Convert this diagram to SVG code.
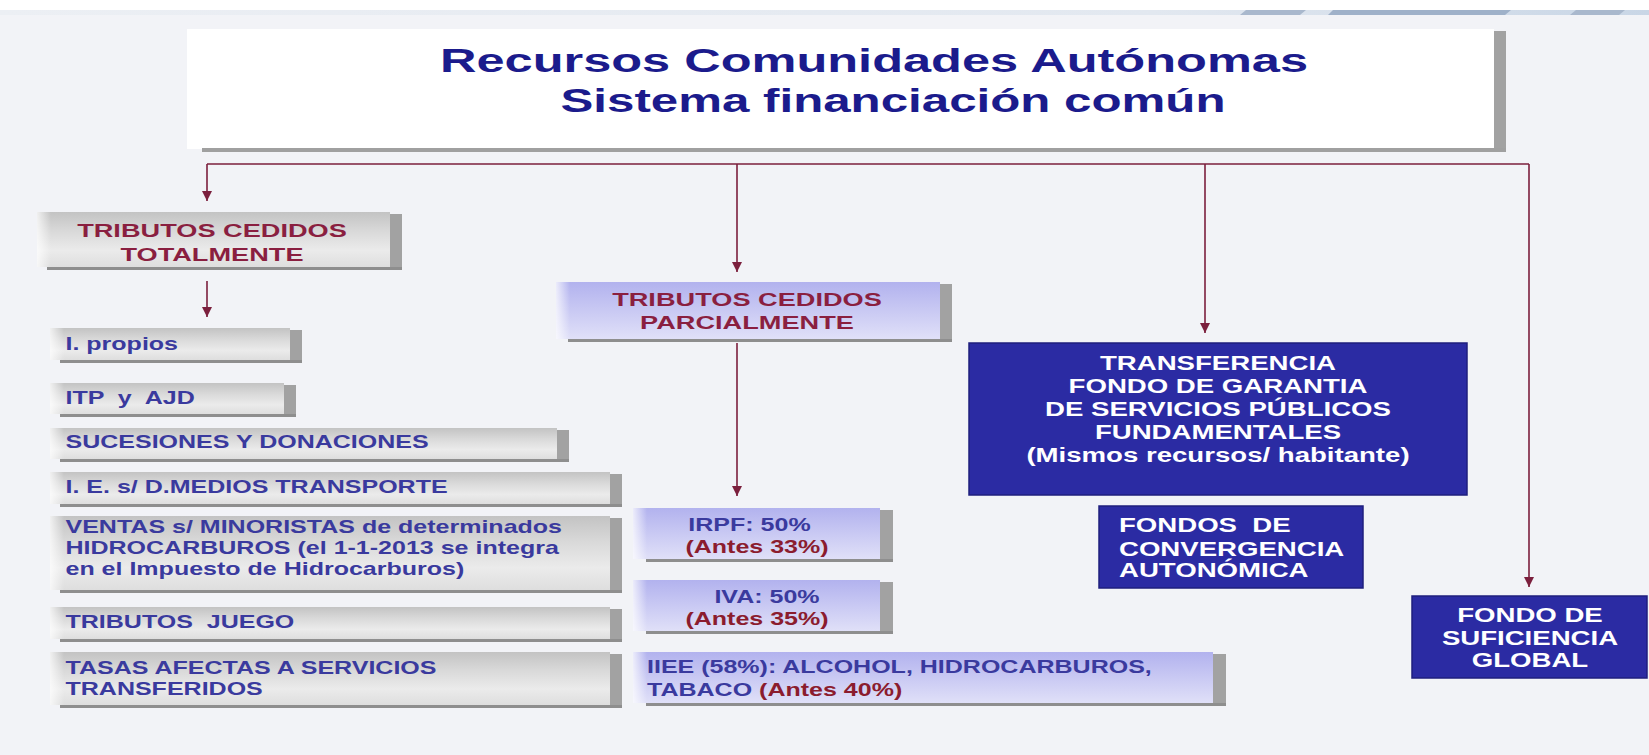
<svg xmlns="http://www.w3.org/2000/svg" width="1649" height="755" viewBox="0 0 1649 755">
<defs>
<style>
.t{font-family:"Liberation Sans",Arial,sans-serif;font-weight:bold}
.title{fill:#1b1b8c;font-size:33px}
.mar{fill:#8a1f40;font-size:19px}
.blu{fill:#3a3a9e;font-size:17.5px}
.red{fill:#8b1c2e}
.wht{fill:#ffffff;font-size:19.3px}
.conn{stroke:#7b1f3d;stroke-width:1.6;fill:none}
.bar{fill:#a2a2a2}
.bot{fill:#8e8e8e}
.gray{fill:url(#gGray)}
.purp{fill:url(#gPurple)}
.fade{fill:url(#gLeft)}
.bluebox{fill:#2b2ba3;stroke:#1f1f7e;stroke-width:1.5}
</style>
<linearGradient id="gGray" x1="0" y1="0" x2="0" y2="1">
<stop offset="0" stop-color="#c3c3c3"/>
<stop offset="0.35" stop-color="#d9d9d9"/>
<stop offset="0.7" stop-color="#ebebeb"/>
<stop offset="1" stop-color="#dedede"/>
</linearGradient>
<linearGradient id="gPurple" x1="0" y1="0" x2="0" y2="1">
<stop offset="0" stop-color="#b2b2ee"/>
<stop offset="0.5" stop-color="#c9c9f3"/>
<stop offset="1" stop-color="#e0e0f8"/>
</linearGradient>
<linearGradient id="gLeft" x1="0" y1="0" x2="1" y2="0">
<stop offset="0" stop-color="#ffffff" stop-opacity="0.75"/>
<stop offset="1" stop-color="#ffffff" stop-opacity="0"/>
</linearGradient>
<linearGradient id="gBand" x1="0" y1="0" x2="1" y2="0">
<stop offset="0" stop-color="#eceff4"/>
<stop offset="0.7" stop-color="#e2e8f0"/>
<stop offset="1" stop-color="#c9d6e6"/>
</linearGradient>
<marker id="arr" markerWidth="11" markerHeight="10" refX="10" refY="5" orient="auto" markerUnits="userSpaceOnUse">
<path d="M0,0 L10,5 L0,10 z" fill="#7b1f3d"/>
</marker>
</defs>

<rect x="0" y="0" width="1649" height="755" fill="#f2f3f7"/>
<rect x="0" y="0" width="1649" height="10" fill="#ffffff"/>
<rect x="0" y="10" width="1649" height="5" fill="url(#gBand)"/>
<polygon points="1240,15 1246,10 1306,10 1300,15" fill="#a9b8cd"/>
<polygon points="1328,15 1333,10 1511,10 1505,15" fill="#9fb1c9"/>
<polygon points="1570,15 1576,10 1625,10 1619,15" fill="#a9b8cd"/>

<g id="title">
<rect x="187" y="29" width="1307" height="120" fill="#ffffff"/>
<rect class="bar" x="1494" y="31" width="12" height="121"/>
<rect fill="#a0a0a0" x="202" y="148" width="1304" height="4"/>
<text class="t title" x="874" y="72" text-anchor="middle" textLength="868" lengthAdjust="spacingAndGlyphs">Recursos Comunidades Autónomas</text>
<text class="t title" x="893" y="112" text-anchor="middle" textLength="665" lengthAdjust="spacingAndGlyphs">Sistema financiación común</text>
</g>

<g id="connectors">
<path class="conn" d="M207,164 H1529"/>
<path class="conn" d="M207,164 V201" marker-end="url(#arr)"/>
<path class="conn" d="M737,164 V272" marker-end="url(#arr)"/>
<path class="conn" d="M1205,164 V333" marker-end="url(#arr)"/>
<path class="conn" d="M1529,164 V587" marker-end="url(#arr)"/>
<path class="conn" d="M207,281 V317" marker-end="url(#arr)"/>
<path class="conn" d="M737,343 V496" marker-end="url(#arr)"/>
</g>

<g id="cedidos-totalmente">
<rect class="gray" x="37" y="212" width="353" height="55"/>
<rect class="fade" x="37" y="212" width="14" height="55"/>
<rect class="bar" x="390" y="214" width="12" height="56"/>
<rect class="bot" x="47" y="267" width="355" height="3"/>
<text class="t mar" transform="scale(1.43,1)" x="148.25" y="237" text-anchor="middle">TRIBUTOS CEDIDOS</text>
<text class="t mar" transform="scale(1.43,1)" x="148.25" y="261" text-anchor="middle">TOTALMENTE</text>
</g>

<g id="i-propios">
<rect class="gray" x="50" y="328" width="240" height="32"/>
<rect class="fade" x="50" y="328" width="14" height="32"/>
<rect class="bar" x="290" y="330" width="12" height="33"/>
<rect class="bot" x="60" y="360" width="242" height="3"/>
<text class="t blu" transform="scale(1.43,1)" x="45.8" y="350">I. propios</text>
</g>

<g id="itp-ajd">
<rect class="gray" x="50" y="383" width="234" height="31"/>
<rect class="fade" x="50" y="383" width="14" height="31"/>
<rect class="bar" x="284" y="385" width="12" height="32"/>
<rect class="bot" x="60" y="414" width="236" height="3"/>
<text class="t blu" transform="scale(1.43,1)" x="45.8" y="404" xml:space="preserve">ITP  y  AJD</text>
</g>

<g id="sucesiones">
<rect class="gray" x="50" y="428" width="507" height="31"/>
<rect class="fade" x="50" y="428" width="14" height="31"/>
<rect class="bar" x="557" y="430" width="12" height="32"/>
<rect class="bot" x="60" y="459" width="509" height="3"/>
<text class="t blu" transform="scale(1.43,1)" x="45.8" y="448">SUCESIONES Y DONACIONES</text>
</g>

<g id="medios-transporte">
<rect class="gray" x="50" y="472" width="560" height="32"/>
<rect class="fade" x="50" y="472" width="14" height="32"/>
<rect class="bar" x="610" y="474" width="12" height="33"/>
<rect class="bot" x="60" y="504" width="562" height="3"/>
<text class="t blu" transform="scale(1.43,1)" x="45.8" y="493">I. E. s/ D.MEDIOS TRANSPORTE</text>
</g>

<g id="ventas-minoristas">
<rect class="gray" x="50" y="516" width="560" height="74"/>
<rect class="fade" x="50" y="516" width="14" height="74"/>
<rect class="bar" x="610" y="518" width="12" height="75"/>
<rect class="bot" x="60" y="590" width="562" height="3"/>
<text class="t blu" transform="scale(1.43,1)" x="45.8" y="533">VENTAS s/ MINORISTAS de determinados</text>
<text class="t blu" transform="scale(1.43,1)" x="45.8" y="554">HIDROCARBUROS (el 1-1-2013 se integra</text>
<text class="t blu" transform="scale(1.43,1)" x="45.8" y="575">en el Impuesto de Hidrocarburos)</text>
</g>

<g id="tributos-juego">
<rect class="gray" x="50" y="607" width="560" height="32"/>
<rect class="fade" x="50" y="607" width="14" height="32"/>
<rect class="bar" x="610" y="609" width="12" height="33"/>
<rect class="bot" x="60" y="639" width="562" height="3"/>
<text class="t blu" transform="scale(1.43,1)" x="45.8" y="628" xml:space="preserve">TRIBUTOS  JUEGO</text>
</g>

<g id="tasas">
<rect class="gray" x="50" y="652" width="560" height="53"/>
<rect class="fade" x="50" y="652" width="14" height="53"/>
<rect class="bar" x="610" y="654" width="12" height="54"/>
<rect class="bot" x="60" y="705" width="562" height="3"/>
<text class="t blu" transform="scale(1.43,1)" x="45.8" y="674">TASAS AFECTAS A SERVICIOS</text>
<text class="t blu" transform="scale(1.43,1)" x="45.8" y="695">TRANSFERIDOS</text>
</g>

<g id="cedidos-parcialmente">
<rect class="purp" x="556" y="282" width="384" height="57"/>
<rect class="fade" x="556" y="282" width="14" height="57"/>
<rect class="bar" x="940" y="284" width="12" height="58"/>
<rect class="bot" x="568" y="339" width="384" height="3"/>
<text class="t mar" transform="scale(1.43,1)" x="522.38" y="306" text-anchor="middle">TRIBUTOS CEDIDOS</text>
<text class="t mar" transform="scale(1.43,1)" x="522.38" y="329" text-anchor="middle">PARCIALMENTE</text>
</g>

<g id="irpf">
<rect class="purp" x="633" y="508" width="247" height="51"/>
<rect class="fade" x="633" y="508" width="14" height="51"/>
<rect class="bar" x="880" y="510" width="13" height="52"/>
<rect class="bot" x="646" y="559" width="247" height="3"/>
<text class="t blu" transform="scale(1.43,1)" x="524.13" y="531" text-anchor="middle">IRPF: 50%</text>
<text class="t blu red" transform="scale(1.43,1)" x="529.37" y="553" text-anchor="middle">(Antes 33%)</text>
</g>

<g id="iva">
<rect class="purp" x="633" y="580" width="247" height="51"/>
<rect class="fade" x="633" y="580" width="14" height="51"/>
<rect class="bar" x="880" y="582" width="13" height="52"/>
<rect class="bot" x="646" y="631" width="247" height="3"/>
<text class="t blu" transform="scale(1.43,1)" x="536.36" y="603" text-anchor="middle">IVA: 50%</text>
<text class="t blu red" transform="scale(1.43,1)" x="529.37" y="625" text-anchor="middle">(Antes 35%)</text>
</g>

<g id="iiee">
<rect class="purp" x="633" y="652" width="580" height="51"/>
<rect class="fade" x="633" y="652" width="14" height="51"/>
<rect class="bar" x="1213" y="654" width="13" height="52"/>
<rect class="bot" x="646" y="703" width="580" height="3"/>
<text class="t blu" transform="scale(1.43,1)" x="452.45" y="673">IIEE (58%): ALCOHOL, HIDROCARBUROS,</text>
<text class="t blu" transform="scale(1.43,1)" x="452.45" y="696">TABACO <tspan class="red">(Antes 40%)</tspan></text>
</g>

<g id="transferencia">
<rect class="bluebox" x="969" y="343" width="498" height="152"/>
<text class="t wht" transform="scale(1.43,1)" x="851.75" y="370" text-anchor="middle">TRANSFERENCIA</text>
<text class="t wht" transform="scale(1.43,1)" x="851.75" y="393" text-anchor="middle">FONDO DE GARANTIA</text>
<text class="t wht" transform="scale(1.43,1)" x="851.75" y="416" text-anchor="middle">DE SERVICIOS PÚBLICOS</text>
<text class="t wht" transform="scale(1.43,1)" x="851.75" y="439" text-anchor="middle">FUNDAMENTALES</text>
<text class="t wht" transform="scale(1.43,1)" x="851.75" y="462" text-anchor="middle">(Mismos recursos/ habitante)</text>
</g>

<g id="fondos-convergencia">
<rect class="bluebox" x="1099" y="506" width="264" height="82"/>
<text class="t wht" transform="scale(1.43,1)" x="782.52" y="532" xml:space="preserve">FONDOS  DE</text>
<text class="t wht" transform="scale(1.43,1)" x="782.52" y="556">CONVERGENCIA</text>
<text class="t wht" transform="scale(1.43,1)" x="782.52" y="577">AUTONÓMICA</text>
</g>

<g id="fondo-suficiencia">
<rect class="bluebox" x="1412" y="596" width="235" height="82"/>
<text class="t wht" transform="scale(1.43,1)" x="1069.93" y="622" text-anchor="middle">FONDO DE</text>
<text class="t wht" transform="scale(1.43,1)" x="1069.93" y="645" text-anchor="middle">SUFICIENCIA</text>
<text class="t wht" transform="scale(1.43,1)" x="1069.93" y="667" text-anchor="middle">GLOBAL</text>
</g>
</svg>
